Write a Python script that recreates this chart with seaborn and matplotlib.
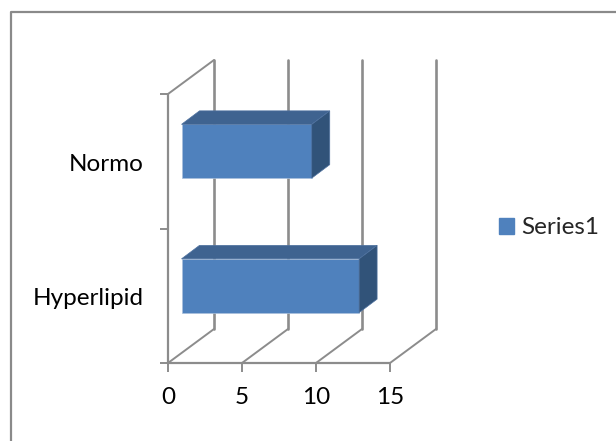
import seaborn as sns
import matplotlib.pyplot as plt
from matplotlib.patches import Patch, Polygon
from matplotlib.transforms import Affine2D, IdentityTransform
import pandas as pd

categories = ['Normo', 'Hyperlipid']
values = [8.8, 12.0]
x_ticks = [0, 5, 10, 15]

W, H = 616, 441
FACE = '#4F81BD'
TOP = '#3F6390'
SIDE = '#315379'
GRID = '#8C8C8C'

sns.set_theme(style='white')
plt.rcParams['font.family'] = ['Lato', 'DejaVu Sans']

fig = plt.figure(figsize=(W / 100, H / 100), dpi=100)
ax = fig.add_axes([168 / W, 1 - 363 / H, 222 / W, 269 / H])

df = pd.DataFrame({'Group': categories, 'Values': values})
sns.barplot(x='Values', y='Group', data=df, ax=ax, color=FACE, saturation=1,
            width=0.4, orient='h', zorder=3)
ax.set_xlim(0, 15)
ax.set_xticks(x_ticks)
ax.set_xlabel('')
ax.set_ylabel('')
ax.set_yticks([-0.5, 0.5, 1.5])
ax.set_yticklabels([])
ax.set_ylim(1.5, -0.5)
for s in ax.spines.values():
    s.set_visible(False)

# tick labels for categories sit between the tick marks
for i, name in enumerate(categories):
    ax.annotate(name, (0, i), xycoords='data', xytext=(-24, -3), textcoords='offset pixels',
                ha='right', va='center', fontsize=17.5, color='black')

ax.tick_params(axis='x', length=6.5, width=1.4, color=GRID, labelsize=17.5, pad=11, labelcolor='black', bottom=True)
ax.tick_params(axis='y', length=6, width=1.4, color=GRID, left=True)

# fake 3D: back wall is the axes shifted by a fixed pixel offset
dx, dy = 46, 34
bx, by = 13.5, 10
bd, bh = 18, 13.5
px = IdentityTransform()
back = ax.transData + Affine2D().translate(dx, dy)
for t in x_ticks:
    ax.plot([t, t], [-0.5, 1.5], color=GRID, lw=1.9, transform=back, clip_on=False, zorder=1)
    p0 = ax.transData.transform((t, 1.5))
    ax.plot([p0[0], p0[0] + dx], [p0[1], p0[1] + dy], color=GRID, lw=1.4, transform=px, clip_on=False, zorder=1)
ax.plot([0, 15], [1.5, 1.5], color=GRID, lw=1.6, clip_on=False, zorder=2)
ax.plot([0, 0], [-0.5, 1.5], color=GRID, lw=1.6, clip_on=False, zorder=2)
p0 = ax.transData.transform((0, -0.5))
ax.plot([p0[0], p0[0] + dx], [p0[1], p0[1] + dy], color=GRID, lw=1.4, transform=px, clip_on=False, zorder=1)

# depth faces of each bar, built from the bars seaborn drew
to_front = ax.transData + Affine2D().translate(bx, by)
for bar in list(ax.patches):
    bar.set_transform(to_front)
    bar.set_edgecolor('#A9C0DC')
    bar.set_linewidth(0.5)
    bar.set_clip_on(False)
    (x0, y0), (x1, y1) = to_front.transform(bar.get_bbox().get_points())
    lo, hi = min(y0, y1), max(y0, y1)
    top = [(x0, hi), (x1, hi), (x1 + bd, hi + bh), (x0 + bd, hi + bh)]
    side = [(x1, hi), (x1 + bd, hi + bh), (x1 + bd, lo + bh), (x1, lo)]
    ax.add_patch(Polygon(top, closed=True, transform=px, facecolor=TOP, edgecolor='#4F72A0', lw=0.5, zorder=3, clip_on=False))
    ax.add_patch(Polygon(side, closed=True, transform=px, facecolor=SIDE, edgecolor='#4F72A0', lw=0.5, zorder=3, clip_on=False))

fig.legend(handles=[Patch(color=FACE, label='Series1')], loc='center left', bbox_to_anchor=(499 / W, 1 - 228 / H),
           frameon=False, fontsize=17.5, handlelength=0.62, handleheight=0.62, handletextpad=0.28, borderpad=0, borderaxespad=0)

# chart frame
fig.add_artist(plt.Line2D([10.5 / W, 10.5 / W, 1], [0, 1 - 11.5 / H, 1 - 11.5 / H], color='#8A8A8A', lw=1.6))

fig.savefig('out.png', dpi=100)
